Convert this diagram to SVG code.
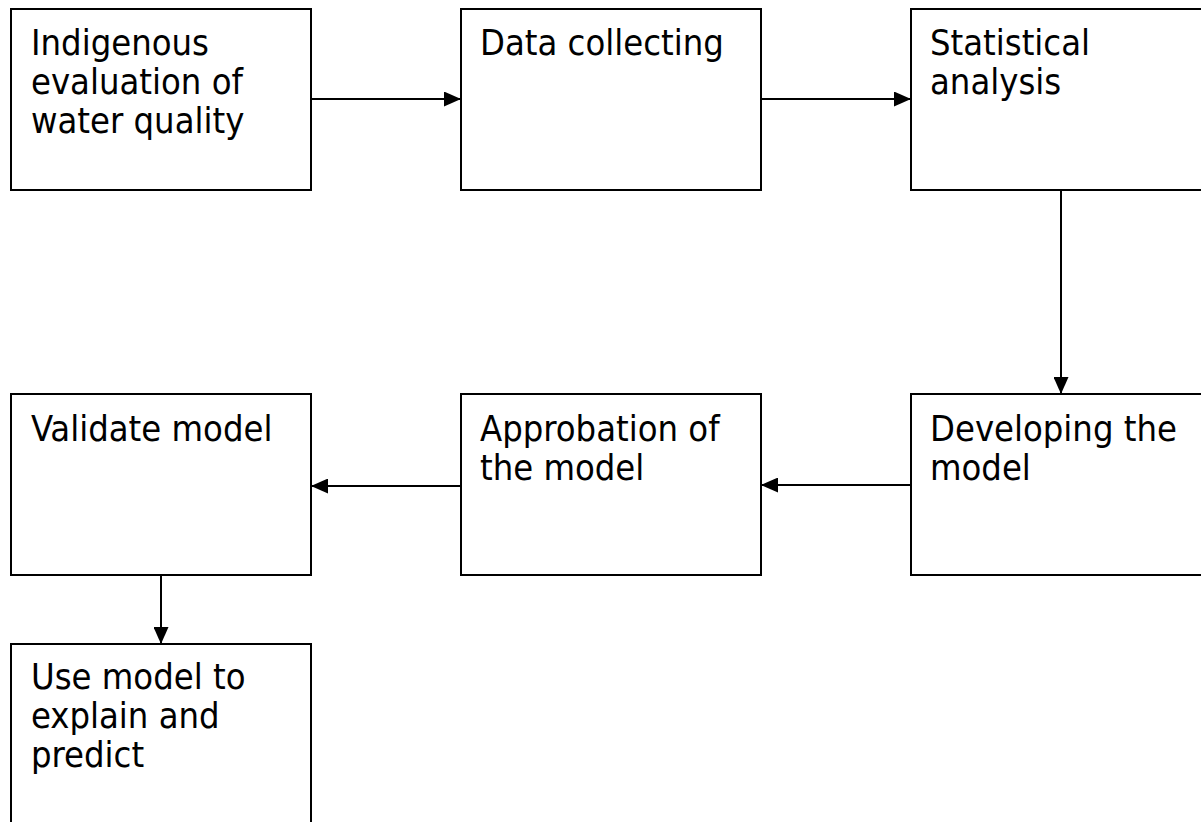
<svg xmlns="http://www.w3.org/2000/svg" width="1201" height="822" viewBox="0 0 1201 822">
<style>
.box{fill:#fff;stroke:#000;stroke-width:2}
.lbl{font-family:"DejaVu Sans Condensed","DejaVu Sans",sans-serif;font-stretch:condensed;font-size:36px;fill:#000}
.con{stroke:#000;stroke-width:2;fill:none;marker-end:url(#ah)}
</style>
<defs>
<marker id="ah" markerUnits="userSpaceOnUse" markerWidth="17" markerHeight="15" refX="17" refY="7.5" orient="auto">
<path d="M0,0 L17,7.5 L0,15 z" fill="#000"/>
</marker>
</defs>
<rect width="1201" height="822" fill="#fff"/>
<g id="connectors">
<line class="con" x1="311" y1="99" x2="461" y2="99"/>
<line class="con" x1="761" y1="99" x2="911" y2="99"/>
<line class="con" x1="1061" y1="190" x2="1061" y2="394"/>
<line class="con" x1="911" y1="485" x2="761" y2="485"/>
<line class="con" x1="461" y1="486" x2="311" y2="486"/>
<line class="con" x1="161" y1="575" x2="161" y2="644"/>
</g>
<g id="n1">
<rect class="box" x="11" y="9" width="300" height="181"/>
<text class="lbl" x="31" y="55">Indigenous</text>
<text class="lbl" x="31" y="94">evaluation of</text>
<text class="lbl" x="31" y="133">water quality</text>
</g>
<g id="n2">
<rect class="box" x="461" y="9" width="300" height="181"/>
<text class="lbl" x="480" y="55">Data collecting</text>
</g>
<g id="n3">
<rect class="box" x="911" y="9" width="300" height="181"/>
<text class="lbl" x="930" y="55">Statistical</text>
<text class="lbl" x="930" y="94">analysis</text>
</g>
<g id="n4">
<rect class="box" x="911" y="394" width="300" height="181"/>
<text class="lbl" x="930" y="441">Developing the</text>
<text class="lbl" x="930" y="480">model</text>
</g>
<g id="n5">
<rect class="box" x="461" y="394" width="300" height="181"/>
<text class="lbl" x="480" y="441">Approbation of</text>
<text class="lbl" x="480" y="480">the model</text>
</g>
<g id="n6">
<rect class="box" x="11" y="394" width="300" height="181"/>
<text class="lbl" x="31" y="441">Validate model</text>
</g>
<g id="n7">
<rect class="box" x="11" y="644" width="300" height="190"/>
<text class="lbl" x="31" y="689">Use model to</text>
<text class="lbl" x="31" y="728">explain and</text>
<text class="lbl" x="31" y="767">predict</text>
</g>
</svg>
